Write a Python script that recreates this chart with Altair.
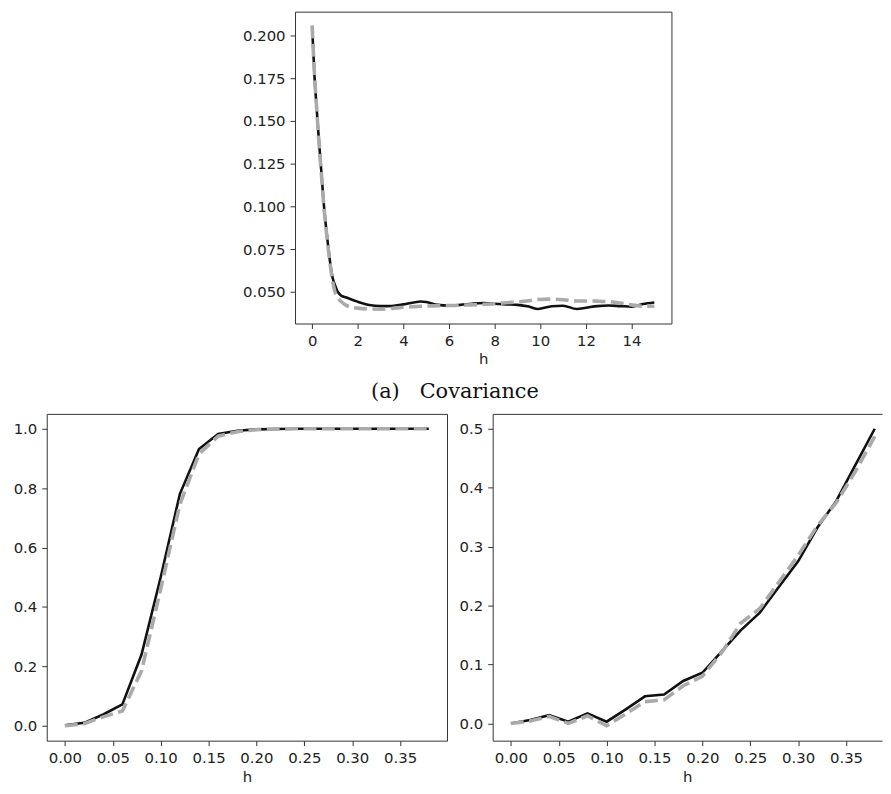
import altair as alt
import pandas as pd

# ---------------- data ----------------
# (a) Covariance panel
cov_h = [0, 0.1, 0.2, 0.3, 0.4, 0.5, 0.6, 0.7, 0.8, 0.9, 1.0,
         1.1, 1.25, 1.5, 1.75, 2.0,
         2.5, 3.0, 3.5, 4.0, 4.5,
         4.75, 5.0, 5.5, 6.0, 6.5,
         7.0, 7.5, 8.0, 8.5, 9.0,
         9.5, 9.9, 10.5, 11.0, 11.6,
         12.0, 12.5, 13.0, 13.5, 14.0,
         14.5, 15.0]
cov_solid = [0.205, 0.177, 0.157, 0.138, 0.121, 0.103, 0.089, 0.077, 0.066, 0.058, 0.054,
             0.0505, 0.0480, 0.0466, 0.0453, 0.0442,
             0.0422, 0.0416, 0.0417, 0.0426, 0.0438,
             0.0443, 0.0440, 0.0423, 0.0419, 0.0423,
             0.0430, 0.0434, 0.0430, 0.0426, 0.0423,
             0.0413, 0.0399, 0.0415, 0.0418, 0.0399,
             0.0406, 0.0416, 0.0419, 0.0416, 0.0413,
             0.0428, 0.0437]
cov_dashed = [0.206, 0.178, 0.157, 0.137, 0.120, 0.102, 0.088, 0.076, 0.065, 0.056, 0.050,
              0.047, 0.0445, 0.0420, 0.0408, 0.0404,
              0.0399, 0.0398, 0.0402, 0.0409, 0.0413,
              0.0415, 0.0416, 0.0418, 0.0419, 0.0421,
              0.0423, 0.0426, 0.0430, 0.0436, 0.0440,
              0.0447, 0.0455, 0.0457, 0.0453, 0.0446,
              0.0446, 0.0445, 0.0442, 0.0434, 0.0423,
              0.0415, 0.0415]

# bottom panels share the h grid
h_grid = [0.00, 0.02, 0.04, 0.06, 0.08, 0.10, 0.12, 0.14, 0.16, 0.18,
          0.20, 0.22, 0.24, 0.26, 0.28, 0.30, 0.32, 0.34, 0.36, 0.38]
left_solid = [0.002, 0.010, 0.038, 0.072, 0.240, 0.500, 0.780, 0.932, 0.982, 0.993,
              0.998, 0.999, 1.000, 1.000, 1.000, 1.000, 1.000, 1.000, 1.000, 1.000]
left_dashed = [0.000, 0.007, 0.030, 0.050, 0.185, 0.460, 0.745, 0.915, 0.975, 0.990,
               0.997, 0.999, 1.000, 1.000, 1.000, 1.000, 1.000, 1.000, 1.000, 1.000]
right_solid = [0.000, 0.006, 0.014, 0.003, 0.017, 0.003, 0.024, 0.046, 0.049, 0.072,
               0.086, 0.122, 0.158, 0.188, 0.232, 0.275, 0.332, 0.378, 0.439, 0.500]
right_dashed = [0.000, 0.004, 0.012, 0.000, 0.013, -0.004, 0.016, 0.037, 0.040, 0.064,
                0.080, 0.120, 0.170, 0.195, 0.240, 0.285, 0.335, 0.375, 0.428, 0.487]

cov_ticks_x = [0, 2, 4, 6, 8, 10, 12, 14]
cov_ticks_y = [0.050, 0.075, 0.100, 0.125, 0.150, 0.175, 0.200]
h_ticks = [0.00, 0.05, 0.10, 0.15, 0.20, 0.25, 0.30, 0.35]
left_ticks_y = [0.0, 0.2, 0.4, 0.6, 0.8, 1.0]
right_ticks_y = [0.0, 0.1, 0.2, 0.3, 0.4, 0.5]

caption = "(a) \u00a0\u00a0Covariance"

# ---------------- styling helpers ----------------
FONT = "DejaVu Sans"
TXT = "#222222"
FRAME = "#333333"
SOLID = "#111111"
DASH = "#aaaaaa"


def y_axis(values, fmt, extent, domain=False):
    return alt.Axis(values=values, format=fmt, title=None, grid=False,
                    domain=domain, domainColor=FRAME, domainWidth=1,
                    ticks=True, tickSize=5, tickColor=FRAME, tickWidth=1,
                    labelFont=FONT, labelFontSize=15, labelColor=TXT,
                    labelPadding=5, minExtent=extent, maxExtent=extent)


def x_axis(values, fmt, title_pad, domain=False):
    return alt.Axis(values=values, format=fmt, title="h", grid=False,
                    domain=domain, domainColor=FRAME, domainWidth=1,
                    ticks=True, tickSize=5, tickColor=FRAME, tickWidth=1,
                    labelFont=FONT, labelFontSize=15, labelColor=TXT,
                    labelPadding=5, labelFlush=False, labelOverlap=False,
                    titleFont=FONT, titleFontSize=15, titleFontWeight="normal",
                    titleColor=TXT, titlePadding=title_pad,
                    minExtent=25, maxExtent=25)


def panel(df, xscale, yscale, xax, yax, interp, top_axis=None):
    base = alt.Chart(df)
    solid = base.mark_line(color=SOLID, strokeWidth=2.6, interpolate=interp).encode(
        x=alt.X("h:Q", scale=xscale, axis=xax),
        y=alt.Y("solid:Q", scale=yscale, axis=yax),
    )
    dashed = base.mark_line(color=DASH, strokeWidth=3.6, strokeDash=[13, 5.5],
                            interpolate=interp).encode(
        x=alt.X("h:Q", scale=xscale, axis=top_axis if top_axis is not None else xax),
        y=alt.Y("dashed:Q", scale=yscale, axis=yax),
    )
    return alt.layer(solid, dashed)


# ---------------- (a) covariance ----------------
cov_df = pd.DataFrame({"h": cov_h, "solid": cov_solid, "dashed": cov_dashed})
top = panel(
    cov_df,
    alt.Scale(domain=[-0.75, 15.75], nice=False, zero=False),
    alt.Scale(domain=[0.0314, 0.214], nice=False, zero=False),
    x_axis(cov_ticks_x, "d", 3),
    y_axis(cov_ticks_y, ".3f", 54),
    "monotone",
).properties(
    width=379, height=314,
    title=alt.Title(caption, orient="bottom", anchor="middle", frame="group",
                    offset=15, dx=-28.5, font="DejaVu Serif", fontSize=21,
                    fontWeight="normal", color="#111111"),
)

# invisible spacer that pushes the top panel to the right
spacer = alt.Chart(pd.DataFrame({"s": [0]})).mark_rect(opacity=0).encode(
    x=alt.value(0), x2=alt.value(0), y=alt.value(0), y2=alt.value(0)
).properties(width=194, height=20, view=alt.ViewBackground(stroke="transparent"))

top_row = alt.hconcat(spacer, top, spacing=0)

# ---------------- bottom left ----------------
left_df = pd.DataFrame({"h": h_grid, "solid": left_solid, "dashed": left_dashed})
bottom_left = panel(
    left_df,
    alt.Scale(domain=[-0.019, 0.399], nice=False, zero=False),
    alt.Scale(domain=[-0.05, 1.05], nice=False, zero=False),
    x_axis(h_ticks, ".2f", 4),
    y_axis(left_ticks_y, ".1f", 38),
    "linear",
).properties(width=403, height=329)

# ---------------- bottom right (clipped at the right edge) ----------------
right_df = pd.DataFrame({"h": h_grid, "solid": right_solid, "dashed": right_dashed})
top_frame = alt.Axis(orient="top", labels=False, ticks=False, domain=True,
                     domainColor=FRAME, domainWidth=1, title=None, grid=False,
                     minExtent=0, maxExtent=0)
bottom_right = panel(
    right_df,
    alt.Scale(domain=[-0.019, 0.3876], nice=False, zero=False),
    alt.Scale(domain=[-0.0292, 0.5252], nice=False, zero=False),
    x_axis(h_ticks, ".2f", 4, domain=True),
    y_axis(right_ticks_y, ".1f", 38, domain=True),
    "linear",
    top_axis=top_frame,
).resolve_axis(x="independent").properties(
    width=392, height=329, view=alt.ViewBackground(stroke="transparent"))

bottom = alt.hconcat(bottom_left, bottom_right, spacing=6)

chart = alt.vconcat(top_row, bottom, spacing=10).properties(
    padding={"left": 0, "top": 0, "right": 0, "bottom": 0},
    background="white",
).configure_view(stroke=FRAME, strokeWidth=1)

chart.save("out.html", embed_options={"renderer": "svg", "actions": False})
